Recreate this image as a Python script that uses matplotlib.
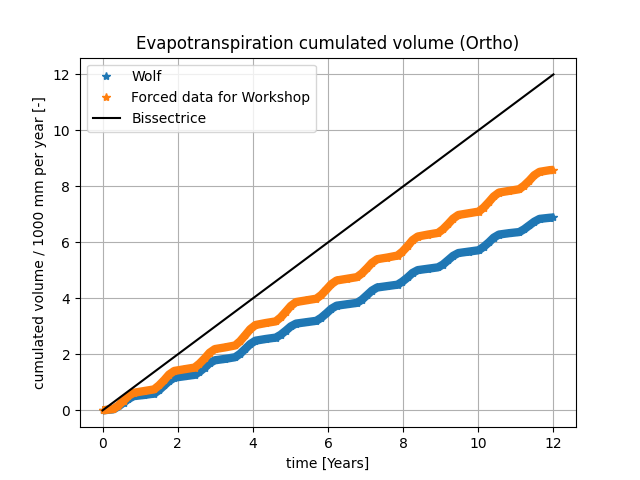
import matplotlib
matplotlib.use("Agg")
import matplotlib.pyplot as plt

# time in years
time = [0.0, 0.29, 0.42, 0.56, 0.69, 0.83, 1.10, 1.37, 1.50, 1.64, 1.77, 1.91,
        2.18, 2.45, 2.58, 2.72, 2.85, 2.99, 3.26, 3.53, 3.66, 3.80, 3.93, 4.07,
        4.34, 4.61, 4.74, 4.88, 5.01, 5.15, 5.42, 5.69, 5.82, 5.96, 6.09, 6.23,
        6.50, 6.77, 6.90, 7.04, 7.17, 7.31, 7.58, 7.85, 7.98, 8.12, 8.25, 8.39,
        8.66, 8.93, 9.06, 9.20, 9.33, 9.47, 9.74, 10.01, 10.14, 10.28, 10.41, 10.55,
        10.82, 11.09, 11.22, 11.36, 11.49, 11.63, 11.90, 12.0]

wolf = [0.00, 0.04, 0.14, 0.28, 0.41, 0.51, 0.55, 0.60, 0.72, 0.89, 1.05, 1.17,
        1.22, 1.27, 1.38, 1.53, 1.69, 1.79, 1.84, 1.90, 2.02, 2.20, 2.37, 2.49,
        2.55, 2.60, 2.70, 2.85, 3.00, 3.10, 3.15, 3.20, 3.31, 3.47, 3.63, 3.74,
        3.79, 3.84, 3.95, 4.12, 4.28, 4.39, 4.44, 4.49, 4.60, 4.75, 4.91, 5.01,
        5.06, 5.11, 5.21, 5.37, 5.52, 5.62, 5.67, 5.72, 5.84, 6.00, 6.17, 6.28,
        6.33, 6.37, 6.47, 6.61, 6.74, 6.84, 6.88, 6.89]

forced = [0.00, 0.05, 0.17, 0.35, 0.52, 0.63, 0.69, 0.75, 0.89, 1.08, 1.28, 1.41,
          1.47, 1.53, 1.67, 1.86, 2.06, 2.19, 2.25, 2.32, 2.47, 2.69, 2.90, 3.05,
          3.12, 3.18, 3.32, 3.53, 3.73, 3.87, 3.93, 3.99, 4.12, 4.32, 4.51, 4.64,
          4.70, 4.76, 4.89, 5.08, 5.27, 5.40, 5.46, 5.53, 5.67, 5.87, 6.08, 6.21,
          6.28, 6.34, 6.47, 6.66, 6.85, 6.98, 7.04, 7.10, 7.24, 7.44, 7.64, 7.78,
          7.84, 7.90, 8.03, 8.21, 8.40, 8.52, 8.58, 8.59]

bis = [0, 12]

fig, ax = plt.subplots(figsize=(6.4, 4.8), dpi=100)

# thick band behind the star markers (dense markers in the original)
ax.plot(time, wolf, color='tab:blue', lw=6, solid_capstyle='butt',
        solid_joinstyle='round', label='_nolegend_')
ax.plot(time, wolf, '*', color='tab:blue', label='Wolf')
ax.plot(time, forced, color='tab:orange', lw=6, solid_capstyle='butt',
        solid_joinstyle='round', label='_nolegend_')
ax.plot(time, forced, '*', color='tab:orange', label='Forced data for Workshop')
ax.plot(bis, bis, color='black', label='Bissectrice')

ax.set_title('Evapotranspiration cumulated volume (Ortho)')
ax.set_xlabel('time [Years]')
ax.set_ylabel('cumulated volume / 1000 mm per year [-]')
ax.grid()
ax.legend(loc='upper left')

fig.savefig('out.png')
